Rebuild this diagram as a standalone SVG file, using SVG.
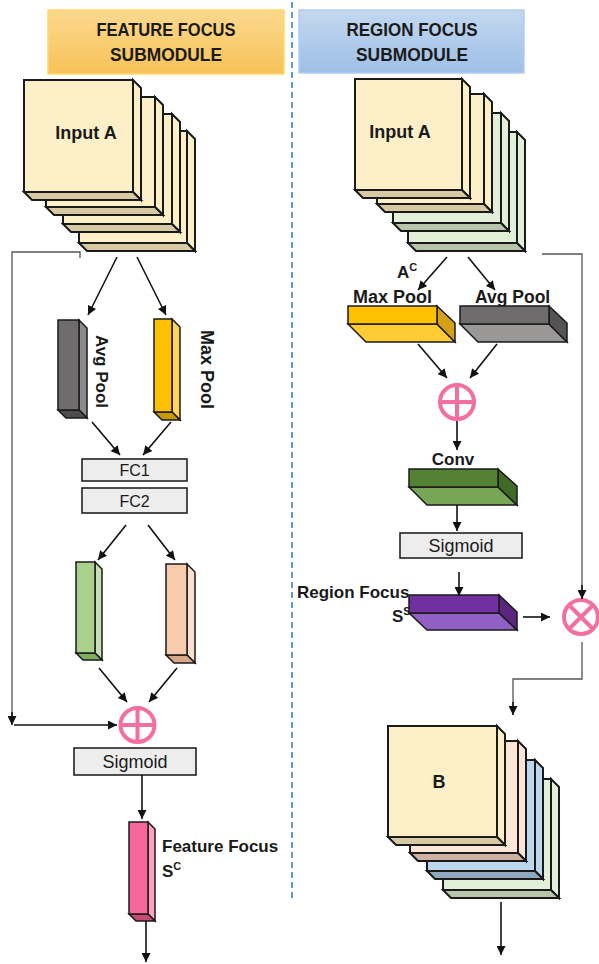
<svg xmlns="http://www.w3.org/2000/svg" width="599" height="964" viewBox="0 0 599 964">
<style>
.b{font-family:"Liberation Sans",Arial,sans-serif;font-weight:bold;fill:#1a1a1a}
.n{font-family:"Liberation Sans",Arial,sans-serif;fill:#1a1a1a}
.s{stroke:#1a1a1a;stroke-width:2;stroke-linejoin:miter}
.s1{stroke:#1a1a1a;stroke-width:1.5;stroke-linejoin:miter}
.ar{stroke:#111;stroke-width:1.6;fill:none;marker-end:url(#ah)}
.gr{stroke:#555;stroke-width:1.3;fill:none}
.pk{stroke:#f26fa0;stroke-width:4;fill:none}
.box{fill:#ededed;stroke:#222;stroke-width:1.6}
</style>
<defs>
<marker id="ah" viewBox="0 0 10 10" refX="10" refY="5" markerWidth="10" markerHeight="9" markerUnits="userSpaceOnUse" orient="auto">
<path d="M0,0 L10,5 L0,10 z" fill="#111"/>
</marker>
<linearGradient id="go" x1="0" y1="0" x2="0" y2="1"><stop offset="0" stop-color="#fcd98f"/><stop offset="1" stop-color="#f7c258"/></linearGradient>
<linearGradient id="gb" x1="0" y1="0" x2="0" y2="1"><stop offset="0" stop-color="#c4d8f0"/><stop offset="1" stop-color="#9dbfe6"/></linearGradient>
</defs>

<line x1="292" y1="2" x2="292" y2="900" stroke="#5b9bd5" stroke-width="2" stroke-dasharray="6 4"/>

<g id="header-feature">
<rect x="48" y="10" width="236" height="64" fill="url(#go)" stroke="#ffd966" stroke-width="1.5"/>
<text class="b" x="166" y="36" font-size="18" text-anchor="middle" textLength="139" lengthAdjust="spacingAndGlyphs">FEATURE FOCUS</text>
<text class="b" x="166" y="61" font-size="18" text-anchor="middle" textLength="112" lengthAdjust="spacingAndGlyphs">SUBMODULE</text>
</g>
<g id="header-region">
<rect x="299" y="10" width="225" height="63" fill="url(#gb)" stroke="#b4cdee" stroke-width="1.5"/>
<text class="b" x="412" y="36" font-size="18" text-anchor="middle" textLength="131" lengthAdjust="spacingAndGlyphs">REGION FOCUS</text>
<text class="b" x="412" y="61" font-size="18" text-anchor="middle" textLength="112" lengthAdjust="spacingAndGlyphs">SUBMODULE</text>
</g>

<g id="inputA-left">
<g class="s">
<polygon points="187,131 195,139 195,251 187,243" fill="#fdf0c8"/>
<polygon points="79,243 187,243 195,251 87,251" fill="#d7c9a2"/>
<rect x="79" y="131" width="108" height="112" fill="#fdf0c8"/>
<polygon points="172,114 180,122 180,232 172,224" fill="#fdf0c8"/>
<polygon points="63,224 172,224 180,232 71,232" fill="#d7c9a2"/>
<rect x="63" y="114" width="109" height="110" fill="#fdf0c8"/>
<polygon points="155,97 163,105 163,215 155,207" fill="#fdf0c8"/>
<polygon points="46,207 155,207 163,215 54,215" fill="#d7c9a2"/>
<rect x="46" y="97" width="109" height="110" fill="#fdf0c8"/>
<polygon points="133,80 141,88 141,200 133,192" fill="#fdf0c8"/>
<polygon points="24,192 133,192 141,200 32,200" fill="#d7c9a2"/>
<rect x="24" y="80" width="109" height="112" fill="#fdf0c8"/>
</g>
<text class="b" x="86" y="139" font-size="18" text-anchor="middle">Input A</text>
</g>

<g id="inputA-right">
<g class="s">
<polygon points="517,132 525,140 525,251 517,243" fill="#e2efd9"/>
<polygon points="408,243 517,243 525,251 416,251" fill="#b7c5aa"/>
<rect x="408" y="132" width="109" height="111" fill="#e2efd9"/>
<polygon points="501,113 509,121 509,231 501,223" fill="#e2efd9"/>
<polygon points="393,223 501,223 509,231 401,231" fill="#b7c5aa"/>
<rect x="393" y="113" width="108" height="110" fill="#e2efd9"/>
<polygon points="484,94 492,102 492,212 484,204" fill="#fdf0c8"/>
<polygon points="377,204 484,204 492,212 385,212" fill="#d7c9a2"/>
<rect x="377" y="94" width="107" height="110" fill="#fdf0c8"/>
<polygon points="462,79 470,87 470,198 462,190" fill="#fdf0c8"/>
<polygon points="355,190 462,190 470,198 363,198" fill="#d7c9a2"/>
<rect x="355" y="79" width="107" height="111" fill="#fdf0c8"/>
</g>
<text class="b" x="400" y="138" font-size="18" text-anchor="middle">Input A</text>
</g>

<g id="avgpool-left">
<g class="s1">
<polygon points="79,320 87,328 87,418 79,410" fill="#8c8a8a"/>
<polygon points="58,410 79,410 87,418 66,418" fill="#4f4d4d"/>
<rect x="58" y="320" width="21" height="90" fill="#6f6c6d"/>
</g>
<text class="b" font-size="17" transform="translate(96,335) rotate(90)">Avg Pool</text>
</g>

<g id="maxpool-left">
<g class="s1">
<polygon points="172,319 180,327 180,420 172,412" fill="#ffd559"/>
<polygon points="154,412 172,412 180,420 162,420" fill="#c99a00"/>
<rect x="154" y="319" width="18" height="93" fill="#ffc000"/>
</g>
<text class="b" font-size="18" transform="translate(201,330) rotate(90)">Max Pool</text>
</g>

<g id="fc1"><rect class="box" x="82" y="459" width="105" height="22"/><text class="n" x="134.5" y="476" font-size="16" text-anchor="middle">FC1</text></g>
<g id="fc2"><rect class="box" x="82" y="488" width="105" height="25"/><text class="n" x="134.5" y="507" font-size="16" text-anchor="middle">FC2</text></g>

<g id="green-bar">
<g class="s1">
<polygon points="95,562 102,569 102,660 95,653" fill="#c5e0b4"/>
<polygon points="76,653 95,653 102,660 83,660" fill="#7fae63"/>
<rect x="76" y="562" width="19" height="91" fill="#a9d18e"/>
</g>
</g>
<g id="peach-bar">
<g class="s1">
<polygon points="187,564 195,572 195,663 187,655" fill="#fbe0ce"/>
<polygon points="166,655 187,655 195,663 174,663" fill="#d8a88a"/>
<rect x="166" y="564" width="21" height="91" fill="#f8cbad"/>
</g>
</g>

<g id="add-left">
<circle class="pk" cx="137.5" cy="725" r="17"/>
<line class="pk" x1="120.5" y1="725" x2="154.5" y2="725"/>
<line class="pk" x1="137.5" y1="708" x2="137.5" y2="742"/>
</g>

<g id="sigmoid-left"><rect class="box" x="74" y="748" width="122" height="27"/><text class="n" x="135" y="768" font-size="18" text-anchor="middle">Sigmoid</text></g>

<g id="feature-focus">
<g class="s1">
<polygon points="148,822 155,829 155,921 148,914" fill="#f9a3c0"/>
<polygon points="129,914 148,914 155,921 136,921" fill="#c94a73"/>
<rect x="129" y="822" width="19" height="92" fill="#f7679a"/>
</g>
<text class="b" x="162" y="852" font-size="17">Feature Focus</text>
<text class="b" x="162" y="877" font-size="17">S<tspan font-size="11" dy="-7">C</tspan></text>
</g>

<g id="maxpool-right">
<text class="b" x="353" y="303" font-size="18">Max Pool</text>
<g class="s1">
<polygon points="348,324 437,324 455,342 366,342" fill="#ffcc33"/>
<polygon points="437,306 455,323 455,342 437,324" fill="#d4a017"/>
<rect x="348" y="306" width="89" height="18" fill="#ffc000"/>
</g>
</g>
<g id="avgpool-right">
<text class="b" x="475" y="303" font-size="17.5">Avg Pool</text>
<g class="s1">
<polygon points="460,324 549,324 567,342 478,342" fill="#9a9797"/>
<polygon points="549,306 567,323 567,342 549,324" fill="#555353"/>
<rect x="460" y="306" width="89" height="18" fill="#6f6c6d"/>
</g>
</g>
<text class="b" x="397" y="278" font-size="17">A<tspan font-size="11" dy="-7">C</tspan></text>

<g id="add-right">
<circle class="pk" cx="457" cy="402" r="17"/>
<line class="pk" x1="440" y1="402" x2="474" y2="402"/>
<line class="pk" x1="457" y1="385" x2="457" y2="419"/>
</g>

<g id="conv">
<text class="b" x="453" y="465" font-size="17" text-anchor="middle">Conv</text>
<g class="s1">
<polygon points="409,487 498,487 517,505 427,505" fill="#77a657"/>
<polygon points="498,469 517,486 517,505 498,487" fill="#3f6a25"/>
<rect x="409" y="469" width="89" height="18" fill="#548235"/>
</g>
</g>

<g id="sigmoid-right"><rect class="box" x="400" y="533" width="122" height="25"/><text class="n" x="461" y="552" font-size="18" text-anchor="middle">Sigmoid</text></g>

<g id="region-focus">
<text class="b" x="297" y="598" font-size="17">Region Focus</text>
<text class="b" x="392" y="622" font-size="17">S<tspan font-size="11" dy="-7">S</tspan></text>
<g class="s1">
<polygon points="409,613 499,613 517,630 427,630" fill="#9160c4"/>
<polygon points="499,595 517,612 517,630 499,613" fill="#5a2680"/>
<rect x="409" y="595" width="90" height="18" fill="#7030a0"/>
</g>
</g>

<g id="mul">
<circle class="pk" cx="581" cy="617" r="17"/>
<line class="pk" x1="569" y1="605" x2="593" y2="629"/>
<line class="pk" x1="593" y1="605" x2="569" y2="629"/>
</g>

<g id="output-B">
<g class="s">
<polygon points="551,779 559,787 559,898 551,890" fill="#e2efd9"/>
<polygon points="443,890 551,890 559,898 451,898" fill="#b7c5aa"/>
<rect x="443" y="779" width="108" height="111" fill="#e2efd9"/>
<polygon points="535,760 543,768 543,879 535,871" fill="#bdd7ee"/>
<polygon points="427,871 535,871 543,879 435,879" fill="#8fa7bf"/>
<rect x="427" y="760" width="108" height="111" fill="#bdd7ee"/>
<polygon points="518,741 526,749 526,861 518,853" fill="#fbe5d6"/>
<polygon points="410,853 518,853 526,861 418,861" fill="#cdb2a4"/>
<rect x="410" y="741" width="108" height="112" fill="#fbe5d6"/>
<polygon points="497,726 505,734 505,845 497,837" fill="#fdf0c8"/>
<polygon points="388,837 497,837 505,845 396,845" fill="#d7c9a2"/>
<rect x="388" y="726" width="109" height="111" fill="#fdf0c8"/>
</g>
<text class="b" x="439" y="788" font-size="18" text-anchor="middle">B</text>
</g>

<g id="connectors">
<line class="ar" x1="117" y1="257" x2="88" y2="315"/>
<line class="ar" x1="137" y1="257" x2="166" y2="315"/>
<line class="ar" x1="92" y1="422" x2="120" y2="455"/>
<line class="ar" x1="171" y1="422" x2="143" y2="455"/>
<line class="ar" x1="126" y1="525" x2="98" y2="560"/>
<line class="ar" x1="148" y1="525" x2="175" y2="560"/>
<line class="ar" x1="99" y1="668" x2="127" y2="702"/>
<line class="ar" x1="177" y1="668" x2="149" y2="702"/>
<path class="gr" d="M80,258 V252 H12 V718"/>
<line class="ar" x1="12" y1="712" x2="12" y2="725"/>
<line class="ar" x1="14" y1="725" x2="117" y2="725"/>
<line class="ar" x1="142" y1="775" x2="142" y2="819"/>
<line class="ar" x1="146" y1="921" x2="146" y2="962"/>
<line class="ar" x1="447" y1="257" x2="418" y2="290"/>
<line class="ar" x1="468" y1="257" x2="495" y2="290"/>
<line class="ar" x1="418" y1="344" x2="447" y2="378"/>
<line class="ar" x1="497" y1="344" x2="470" y2="378"/>
<line class="ar" x1="457" y1="421" x2="457" y2="450"/>
<line class="ar" x1="457" y1="505" x2="457" y2="531"/>
<line class="ar" x1="459" y1="572" x2="459" y2="596"/>
<line class="ar" x1="523" y1="617" x2="550" y2="617"/>
<path class="gr" d="M542,254 H582 V592"/>
<line class="ar" x1="582" y1="585" x2="582" y2="599"/>
<path class="gr" d="M582,642 V679 H513 V708"/>
<line class="ar" x1="513" y1="702" x2="513" y2="715"/>
<line class="ar" x1="501" y1="902" x2="501" y2="955"/>
</g>
</svg>
